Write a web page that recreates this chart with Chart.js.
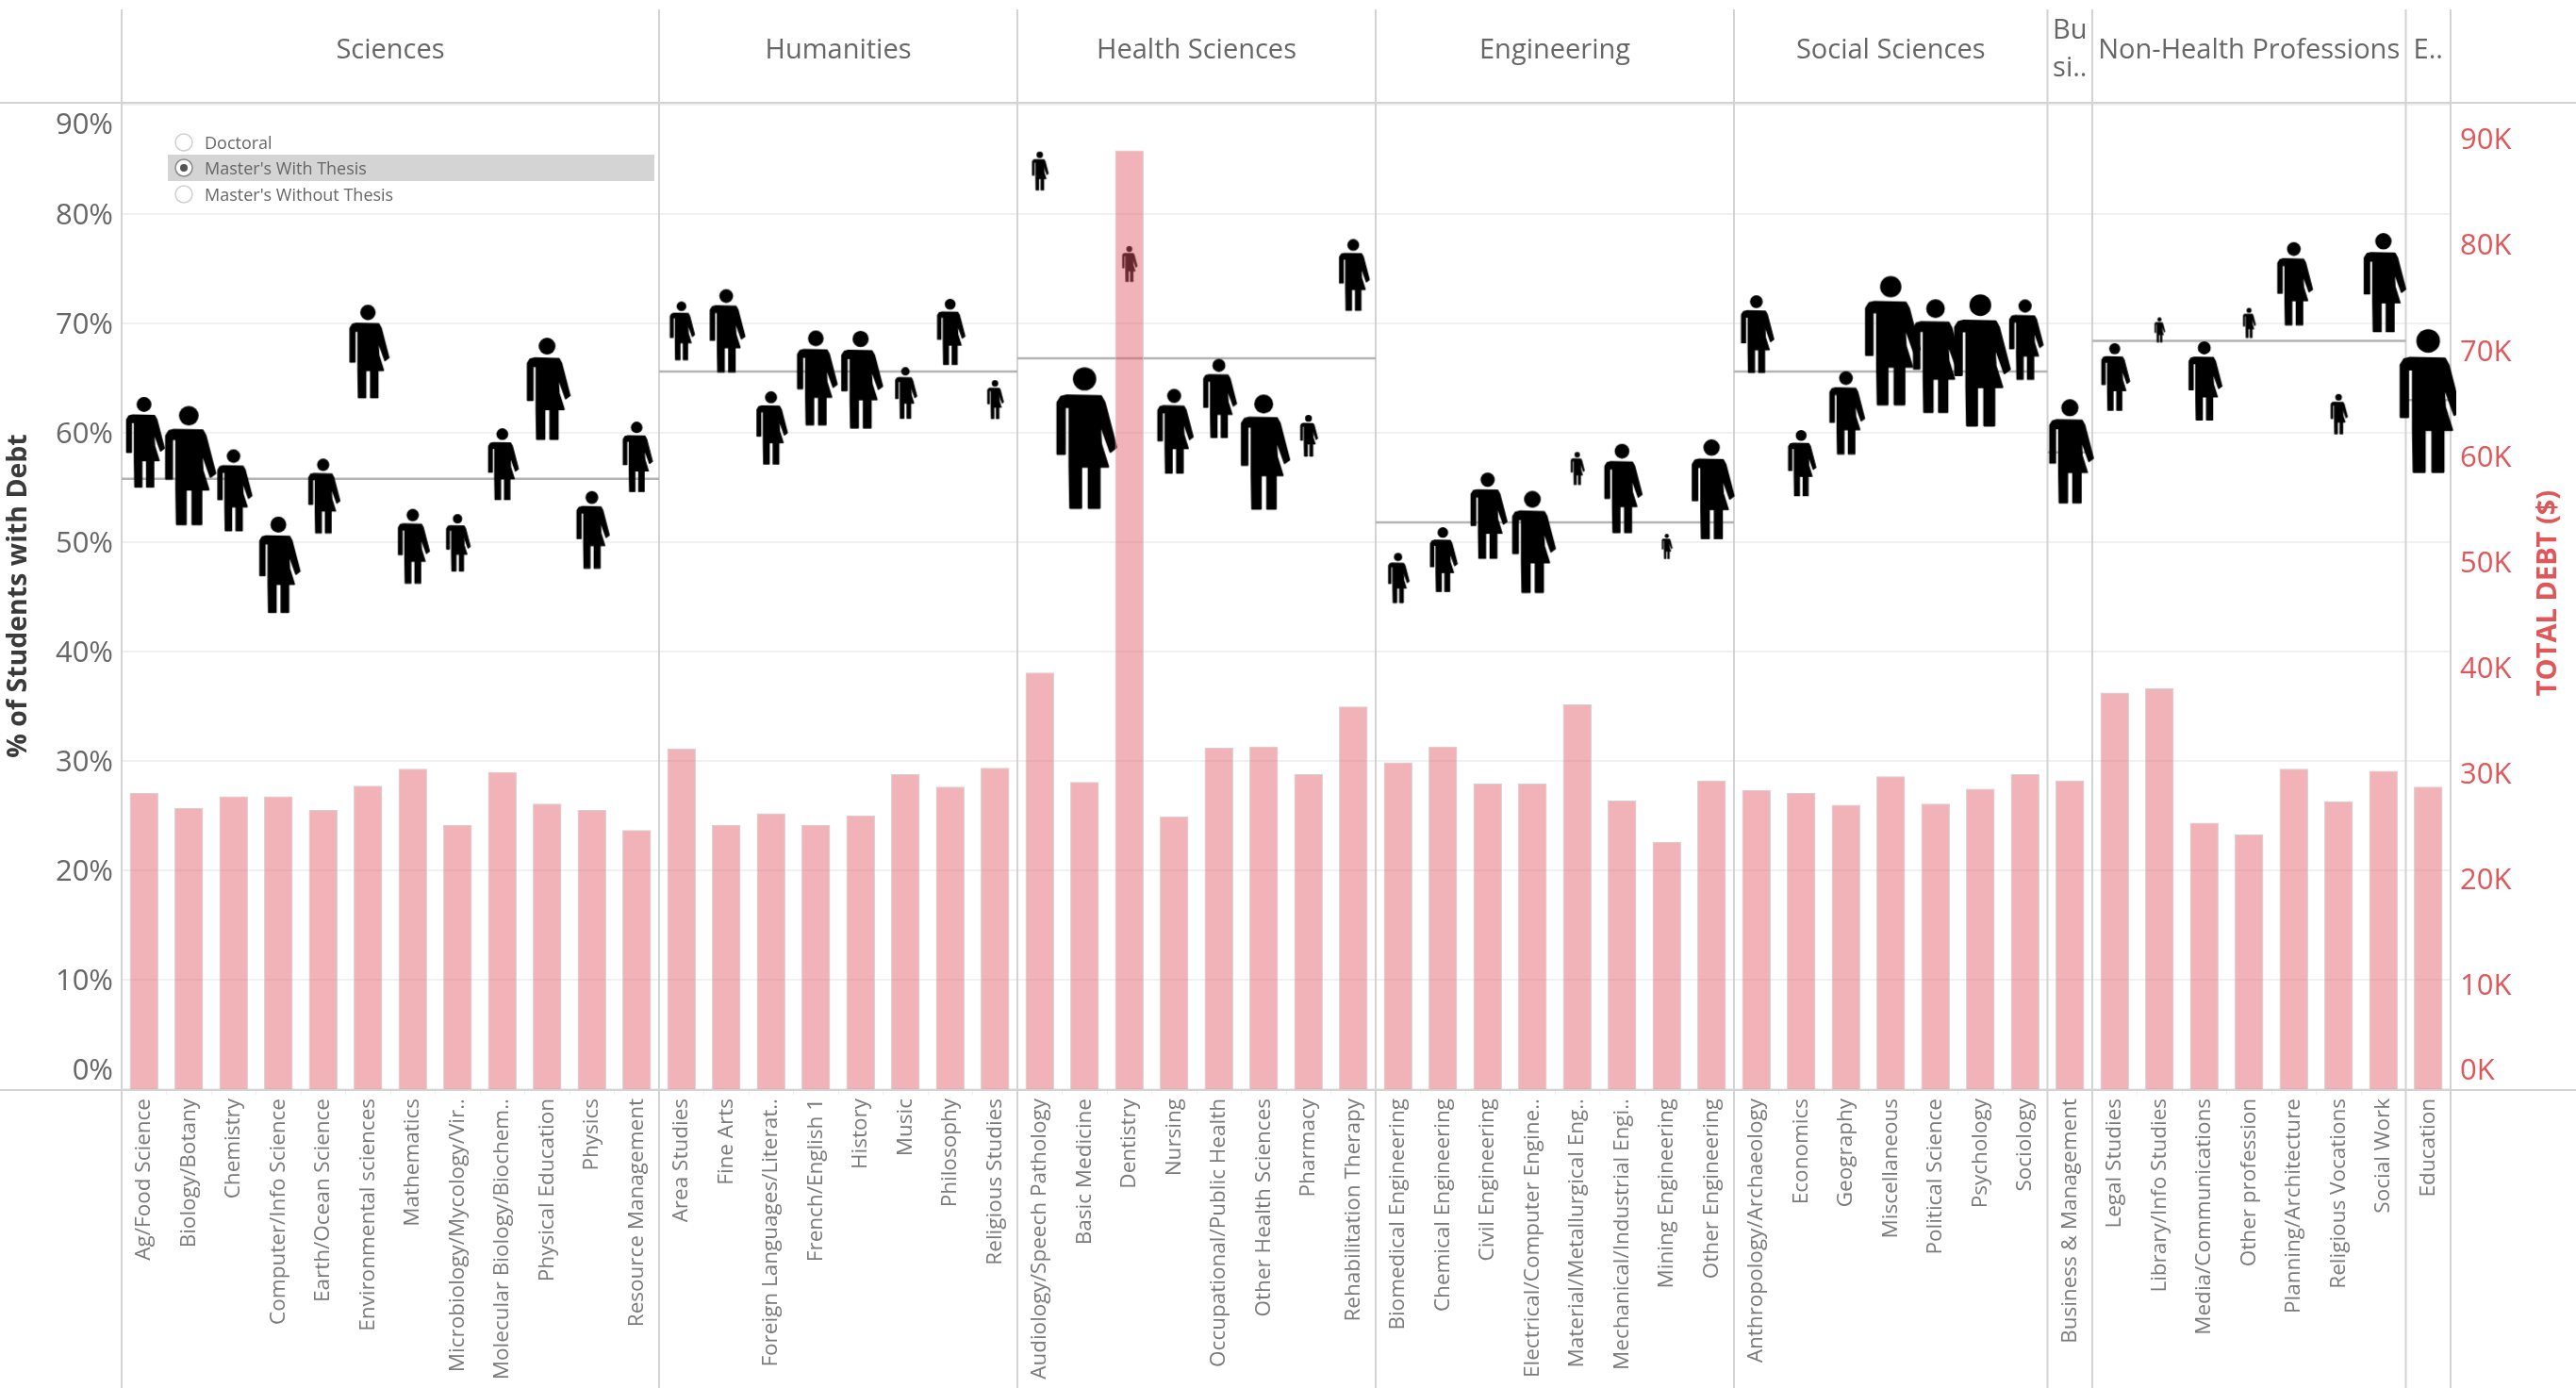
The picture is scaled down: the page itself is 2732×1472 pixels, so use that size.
<!DOCTYPE html>
<html>
<head>
<meta charset="utf-8">
<style>html,body{margin:0;padding:0;background:#fff}canvas{display:block}</style>
<script src="https://cdn.jsdelivr.net/npm/chart.js@4/dist/chart.umd.js"></script>
</head>
<body>
<canvas id="c" width="2732" height="1472"></canvas>
<script>
const categories = [
 "Ag/Food Science","Biology/Botany","Chemistry","Computer/Info Science","Earth/Ocean Science","Environmental sciences","Mathematics","Microbiology/Mycology/Vir..","Molecular Biology/Biochem..","Physical Education","Physics","Resource Management",
 "Area Studies","Fine Arts","Foreign Languages/Literat..","French/English 1","History","Music","Philosophy","Religious Studies",
 "Audiology/Speech Pathology","Basic Medicine","Dentistry","Nursing","Occupational/Public Health","Other Health Sciences","Pharmacy","Rehabilitation Therapy",
 "Biomedical Engineering","Chemical Engineering","Civil Engineering","Electrical/Computer Engine..","Material/Metallurgical Eng..","Mechanical/Industrial Engi..","Mining Engineering","Other Engineering",
 "Anthropology/Archaeology","Economics","Geography","Miscellaneous","Political Science","Psychology","Sociology",
 "Business & Management",
 "Legal Studies","Library/Info Studies","Media/Communications","Other profession","Planning/Architecture","Religious Vocations","Social Work",
 "Education"];
const groupNames = ["Sciences","Humanities","Health Sciences","Engineering","Social Sciences",["Bu","si.."],"Non-Health Professions","E.."];
const groupCounts = [12,8,8,8,7,1,7,1];
const groupAveragePct = [55.8,65.6,66.8,51.8,65.6,58.2,68.4,63.0];
const pctWithDebt = [
 59.1,57.0,54.7,47.9,54.2,67.4,49.6,49.9,57.1,64.0,51.1,57.8,
 69.3,69.3,60.4,65.0,64.8,63.6,69.2,63.0,
 83.9,59.5,75.4,60.1,63.1,58.2,59.7,74.4,
 46.7,48.4,52.4,50.0,56.7,54.9,49.6,54.8,
 69.0,57.2,61.8,68.4,67.0,66.6,68.5,
 58.3,
 65.1,69.4,64.7,70.0,73.6,61.7,73.7,
 62.9];
const totalDebtK = [
 28.0,26.6,27.7,27.7,26.4,28.7,30.3,25.0,30.0,27.0,26.4,24.5,
 32.2,25.0,26.1,25.0,25.9,29.8,28.6,30.4,
 39.4,29.05,88.8,25.8,32.3,32.4,29.8,36.2,
 30.9,32.4,28.9,28.9,36.4,27.3,23.4,29.2,
 28.3,28.0,26.9,29.6,27.0,28.4,29.8,
 29.2,
 37.5,37.9,25.2,24.1,30.3,27.2,30.1,
 28.6];
const cohortIndex = [
 63,83,57,67,52,65,52,40,50,71,54,49,
 41,58,51,66,68,36,46,27,
 27,98.5,25,59,55,80,29,50,
 35,45,60,71,23,62,17.5,69.5,
 54,46,58,90,79,92,56,
 72.5,
 47,17.5,55,21,58,28,69,
 100];
const pctTicks = [0,10,20,30,40,50,60,70,80,90];
const debtTicks = [0,10,20,30,40,50,60,70,80,90];
const radioOptions = ["Doctoral","Master's With Thesis","Master's Without Thesis"];
const radioSelected = 1;
const leftTitle = "% of Students with Debt";
const rightTitle = "TOTAL DEBT ($)";

const FONT = '"Open Sans", sans-serif';
const PX_PER_INDEX = 1.53;
const glyphCache = {};
function personGlyph(h){
  const key = h.toFixed(1);
  if (glyphCache[key]) return glyphCache[key];
  const cv = document.createElement('canvas');
  cv.width = Math.ceil(h*0.6)+4; cv.height = Math.ceil(h)+2;
  const g = cv.getContext('2d');
  g.translate(cv.width/2, 1); g.scale(h,h);
  g.fillStyle = '#000'; g.strokeStyle = '#000';
  g.lineJoin = 'round'; g.lineWidth = 0.016;
  g.beginPath(); g.arc(0,0.083,0.082,0,Math.PI*2); g.fill();
  const pts = [[-0.125,0.20],[-0.165,0.21],[-0.19,0.25],[-0.19,0.61],[-0.14,0.61],[-0.14,0.28],[-0.105,0.28],
   [-0.105,0.70],[-0.10,0.99],[-0.025,0.99],[-0.025,0.70],[0.03,0.70],[0.03,0.99],[0.105,0.99],[0.105,0.70],[0.165,0.70],
   [0.115,0.54],[0.105,0.38],[0.182,0.595],[0.222,0.565],[0.14,0.25],[0.115,0.205]];
  g.beginPath(); pts.forEach((p,i)=> i? g.lineTo(p[0],p[1]) : g.moveTo(p[0],p[1])); g.closePath(); g.fill(); g.stroke();
  glyphCache[key] = cv;
  return cv;
}

// reference-line points from group extents
const avgLine = [];
(function(){ let c=0; groupCounts.forEach((n,i)=>{ avgLine.push({x:c,y:groupAveragePct[i]},{x:c+n,y:groupAveragePct[i]},{x:c+n,y:null}); c+=n; }); })();

const panelPlugin = {
  id:'panels',
  beforeDraw(chart){
    const {y,y1} = chart.scales;
    // first and last tick labels sit inside the plot, as in the reference
    y.getLabelItems().forEach(it=>{
      const v = y.getValueForPixel(it.options.translation[1]);
      let d = 2;
      if (Math.abs(v-90)<0.5) d += 20;
      if (Math.abs(v)<0.5) d -= 21;
      it.options.translation[1] += d;
    });
    y1.getLabelItems().forEach(it=>{
      const v = y1.getValueForPixel(it.options.translation[1]);
      let d = 3.5;
      if (Math.abs(v)<0.5) d = -19;
      it.options.translation[1] += d;
    });
  },
  beforeDatasetsDraw(chart){
    const ctx = chart.ctx, a = chart.chartArea, xp = chart.scales.xPanel;
    ctx.save();
    ctx.strokeStyle = '#d3d3d3'; ctx.lineWidth = 2;
    let c = 0;
    const bounds = [0];
    groupCounts.forEach(n=>{c+=n; bounds.push(c);});
    bounds.forEach(b=>{
      const x = xp.getPixelForValue(b);
      ctx.beginPath(); ctx.moveTo(x,10); ctx.lineTo(x,chart.height); ctx.stroke();
    });
    ctx.beginPath(); ctx.moveTo(0,a.top); ctx.lineTo(chart.width,a.top); ctx.stroke();
    // header labels
    ctx.fillStyle = '#666'; ctx.font = '29px '+FONT; ctx.textAlign='center'; ctx.textBaseline='middle';
    groupNames.forEach((name,i)=>{
      const x = (xp.getPixelForValue(bounds[i])+xp.getPixelForValue(bounds[i+1]))/2;
      if (Array.isArray(name)){ ctx.fillText(name[0],x,33); ctx.fillText(name[1],x,73); }
      else ctx.fillText(name,x,54);
    });
    ctx.restore();
  },
  afterDatasetsDraw(chart){
    const ctx = chart.ctx, a = chart.chartArea;
    ctx.save();
    ctx.strokeStyle = '#d3d3d3'; ctx.lineWidth = 2;
    ctx.beginPath(); ctx.moveTo(0,a.bottom+1); ctx.lineTo(chart.width,a.bottom+1); ctx.stroke();
    // right-hand axis title, reads upward
    ctx.translate(2703,629); ctx.rotate(-Math.PI/2);
    ctx.fillStyle='#e15759'; ctx.font='bold 29px '+FONT; ctx.textAlign='center'; ctx.textBaseline='middle';
    ctx.fillText(rightTitle,0,0);
    ctx.restore();
    // radio filter
    ctx.save();
    const rowY = [151,178,206];
    ctx.fillStyle='#d4d4d4'; ctx.fillRect(178,164,516,28);
    ctx.font='18px '+FONT; ctx.textBaseline='middle'; ctx.textAlign='left';
    radioOptions.forEach((t,i)=>{
      ctx.beginPath(); ctx.arc(195,rowY[i],9,0,Math.PI*2);
      ctx.fillStyle='#fff'; ctx.fill();
      ctx.strokeStyle= i===radioSelected ? '#888':'#d0d0d0'; ctx.lineWidth=1.5; ctx.stroke();
      if (i===radioSelected){ ctx.beginPath(); ctx.arc(195,rowY[i],4,0,Math.PI*2); ctx.fillStyle='#555'; ctx.fill(); }
      ctx.fillStyle='#666'; ctx.fillText(t,217,rowY[i]+1.5);
    });
    ctx.restore();
  }
};

new Chart(document.getElementById('c'),{
  type:'bar',
  plugins:[panelPlugin],
  data:{
    labels:categories,
    datasets:[
      {type:'bar',label:'Total debt',data:totalDebtK,yAxisID:'y1',xAxisID:'x',order:0,grouped:false,
       backgroundColor:'rgba(225,87,95,0.45)',borderColor:'rgba(205,205,205,0.9)',borderWidth:1,
       barPercentage:0.64,categoryPercentage:1},
      {type:'line',label:'% with debt',data:pctWithDebt,yAxisID:'y',xAxisID:'x',order:1,showLine:false,
       pointRadius:5,pointHoverRadius:5,
       pointStyle:ctx=>personGlyph(cohortIndex[ctx.dataIndex]*PX_PER_INDEX)},
      {type:'line',label:'Group average',data:avgLine,yAxisID:'y',xAxisID:'xPanel',order:2,
       borderColor:'#b4b4b4',borderWidth:2.5,pointRadius:0,spanGaps:false,tension:0}
    ]
  },
  options:{
    responsive:false,animation:false,
    layout:{padding:{top:109,right:0,bottom:0,left:0}},
    plugins:{legend:{display:false},tooltip:{enabled:false}},
    scales:{
      x:{type:'category',offset:true,position:'bottom',
        afterFit:s=>{s.height=317;},
        grid:{display:true,drawOnChartArea:false,drawTicks:true,tickLength:6,offset:true,color:'#eeeeee',lineWidth:1},
        border:{display:false},
        ticks:{autoSkip:false,maxRotation:90,minRotation:90,padding:4,color:'#7a7a7a',font:{family:FONT,size:22.5}}},
      xPanel:{type:'linear',display:false,min:0,max:52,offset:false},
      y:{type:'linear',position:'left',min:0,max:90.17,
        afterFit:s=>{s.width=129;},
        afterBuildTicks:s=>{s.ticks=pctTicks.map(v=>({value:v}));},
        grid:{color:'#f1f1f1',lineWidth:2,drawTicks:false,tickLength:0},border:{display:false},
        title:{display:true,text:leftTitle,color:'#3a3a3a',font:{family:FONT,size:28.5,weight:'bold'},padding:{top:3,bottom:0}},
        ticks:{padding:9,color:'#666',font:{family:FONT,size:31},callback:v=>v+'%'}},
      y1:{type:'linear',position:'right',min:0,max:93.3,
        afterFit:s=>{s.width=133;},
        afterBuildTicks:s=>{s.ticks=debtTicks.map(v=>({value:v}));},
        grid:{display:false,drawTicks:false,tickLength:0},border:{display:false},
        ticks:{padding:10,color:'#e15759',font:{family:FONT,size:31},callback:v=>v+'K'}}
    }
  }
});
</script>
</body>
</html>
